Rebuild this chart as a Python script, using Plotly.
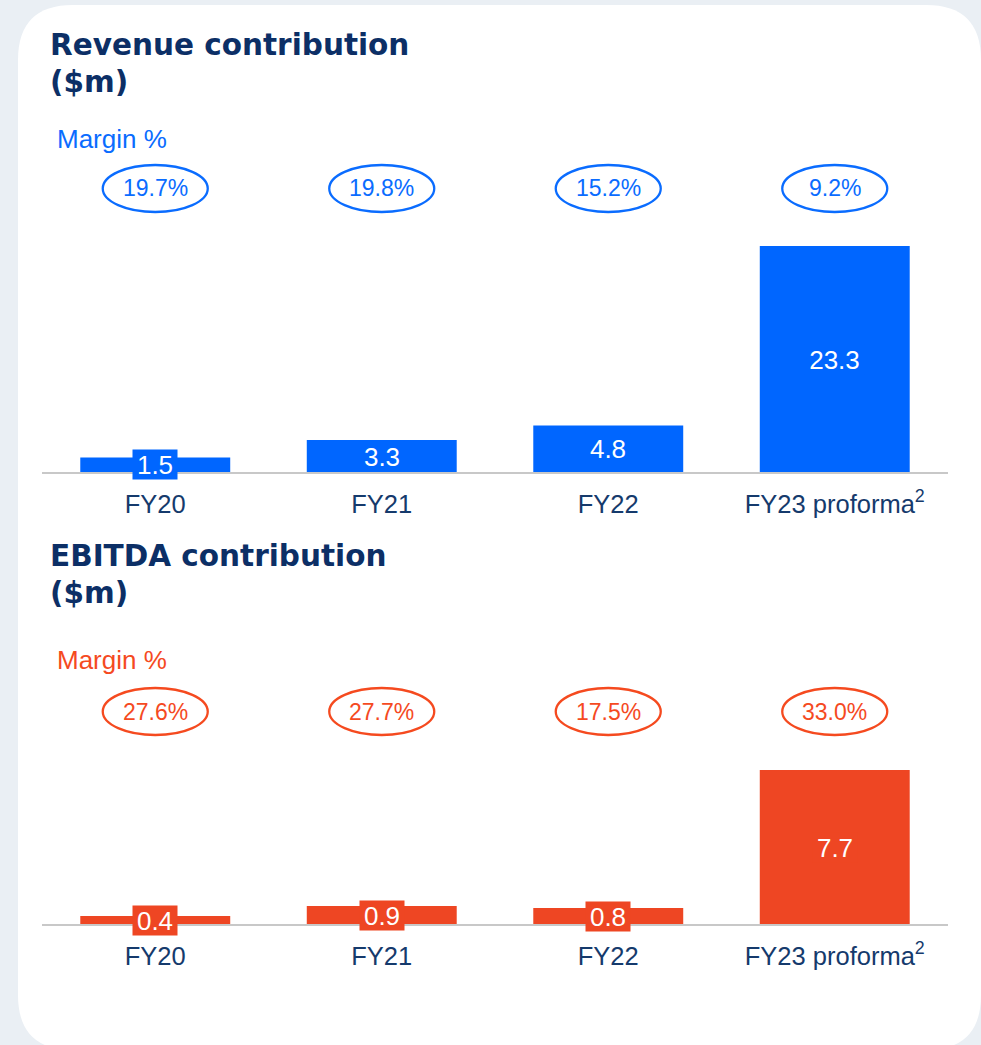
import plotly.graph_objects as go

# ---------------- data ----------------
categories = ["FY20", "FY21", "FY22", "FY23 proforma"]
tick_labels = ["FY20", "FY21", "FY22", "FY23 proforma<sup>2</sup>"]
revenue = [1.5, 3.3, 4.8, 23.3]
revenue_margin = ["19.7%", "19.8%", "15.2%", "9.2%"]
ebitda = [0.4, 0.9, 0.8, 7.7]
ebitda_margin = ["27.6%", "27.7%", "17.5%", "33.0%"]

# ---------------- styles ----------------
W, H = 981, 1045
BLUE = "#0066ff"
BLUE_TXT = "#0a6cff"
ORANGE = "#ee4623"
ORANGE_TXT = "#f54a1f"
NAVY = "#0c2f66"
TICK = "#153a6c"
BG = "#eaeff4"
FONT = "Liberation Sans, Arial, sans-serif"
TITLE_FONT = "DejaVu Sans, Inter, sans-serif"


def px(x):
    return x / W


def py(y):
    return 1 - y / H


fig = go.Figure()

fig.add_trace(go.Bar(x=categories, y=revenue, marker=dict(color=BLUE, line=dict(width=0)),
                     xaxis="x", yaxis="y", hoverinfo="skip"))
fig.add_trace(go.Bar(x=categories, y=ebitda, marker=dict(color=ORANGE, line=dict(width=0)),
                     xaxis="x2", yaxis="y2", hoverinfo="skip"))

xdom = [px(42), px(948)]
axis_common = dict(
    type="category", showgrid=False, zeroline=False, showline=True,
    linecolor="#c8c8c8", linewidth=2, ticks="outside", ticklen=8,
    tickcolor="rgba(0,0,0,0)", tickvals=categories, ticktext=tick_labels,
    tickfont=dict(family=FONT, size=25.5, color=TICK), fixedrange=True,
)
fig.update_layout(
    width=W, height=H,
    margin=dict(l=0, r=0, t=0, b=0),
    paper_bgcolor=BG, plot_bgcolor="rgba(0,0,0,0)",
    showlegend=False, bargap=0.338,
    xaxis=dict(domain=xdom, anchor="y", **axis_common),
    yaxis=dict(domain=[py(472), py(130)], range=[0, (472 - 130) / 9.7], visible=False, fixedrange=True),
    xaxis2=dict(domain=xdom, anchor="y2", **axis_common),
    yaxis2=dict(domain=[py(924), py(650)], range=[0, (924 - 650) / 20.0], visible=False, fixedrange=True),
)

shapes = []
# white rounded card
x0, x1, y0, y1, r = 18, 981, 5, 1050, 55
rx, ry = r / W, r / H
path = (f"M {px(x0)+rx},{py(y0)} L {px(x1)-rx},{py(y0)} Q {px(x1)},{py(y0)} {px(x1)},{py(y0)-ry} "
        f"L {px(x1)},{py(y1)+ry} Q {px(x1)},{py(y1)} {px(x1)-rx},{py(y1)} "
        f"L {px(x0)+rx},{py(y1)} Q {px(x0)},{py(y1)} {px(x0)},{py(y1)+ry} "
        f"L {px(x0)},{py(y0)-ry} Q {px(x0)},{py(y0)} {px(x0)+rx},{py(y0)} Z")
shapes.append(dict(type="path", xref="paper", yref="paper", path=path,
                   fillcolor="white", line=dict(width=0), layer="below"))

annotations = []
half_w = 52.5 / 226.5


def add_panel(values, margins, xref, yref, color, txtcolor, title_lines, title_y, margin_y, ell_cy):
    for k, line in enumerate(title_lines):
        annotations.append(dict(text=line, xref="paper", yref="paper", x=px(48), y=py(title_y + 37 * k),
                                xanchor="left", yanchor="middle", showarrow=False, align="left",
                                font=dict(family=TITLE_FONT, size=29.5, color=NAVY, weight="bold")))
    annotations.append(dict(text="Margin %", xref="paper", yref="paper", x=px(55), y=py(margin_y),
                            xanchor="left", yanchor="middle", showarrow=False,
                            font=dict(family=FONT, size=26, color=txtcolor)))
    for i, (c, v, m) in enumerate(zip(categories, values, margins)):
        shapes.append(dict(type="circle", xref=xref, yref="paper",
                           x0=i - half_w, x1=i + half_w,
                           y0=py(ell_cy + 23.5), y1=py(ell_cy - 23.5),
                           line=dict(color=txtcolor, width=2.3), fillcolor="rgba(0,0,0,0)"))
        annotations.append(dict(text=m, xref=xref, yref="paper", x=c, y=py(ell_cy),
                                xanchor="center", yanchor="middle", showarrow=False,
                                font=dict(family=FONT, size=23, color=txtcolor)))
        label = f"{v:.1f}"
        annotations.append(dict(text=label, xref=xref, yref=yref, x=c, y=v / 2,
                                xanchor="center", yanchor="middle", showarrow=False,
                                bgcolor=color, borderpad=0, width=15 * len(label) - 1, height=29,
                                font=dict(family=FONT, size=26, color="white")))


add_panel(revenue, revenue_margin, "x", "y", BLUE, BLUE_TXT,
          ["Revenue contribution", "($m)"], 45, 139, 188.5)
add_panel(ebitda, ebitda_margin, "x2", "y2", ORANGE, ORANGE_TXT,
          ["EBITDA contribution", "($m)"], 556, 660, 711.5)

fig.update_layout(shapes=shapes, annotations=annotations)

fig.write_html("out.html", config={"displayModeBar": False},
               post_script="document.body.style.margin='0';document.body.style.background='%s';" % BG)
